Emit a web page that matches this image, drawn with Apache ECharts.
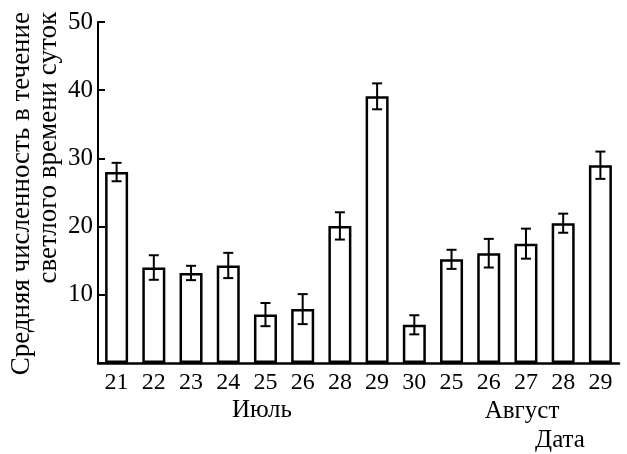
<!DOCTYPE html>
<html>
<head>
<meta charset="utf-8">
<script src="https://cdn.jsdelivr.net/npm/echarts@6/dist/echarts.min.js"></script>
<style>
  html, body { margin: 0; padding: 0; background: #fff; }
  #chart { width: 627px; height: 454px; }
</style>
</head>
<body>
<div id="chart"></div>
<script>
// Observation dates (July then August)
const days = ['21', '22', '23', '24', '25', '26', '28', '29', '30', '25', '26', '27', '28', '29'];
// Mean count during daylight hours
const means = [28, 14, 13.2, 14.3, 7.1, 7.9, 20.1, 39.1, 5.6, 15.2, 16.1, 17.5, 20.5, 29];
// Half-width of the error bars
const errors = [1.35, 1.8, 1.05, 1.85, 1.7, 2.2, 2.0, 1.9, 1.4, 1.4, 2.1, 2.2, 1.4, 2.0];
// Y axis ticks
const yTicks = [0, 10, 20, 30, 40, 50];

const FONT = '"Liberation Serif", "DejaVu Serif", serif';

const chart = echarts.init(document.getElementById('chart'));

const errData = means.map((m, i) => [i, m - errors[i], m + errors[i]]);

chart.setOption({
  animation: false,
  backgroundColor: '#fff',
  grid: { left: 98, right: 8, top: 22, bottom: 91 },
  xAxis: {
    type: 'category',
    data: days,
    axisLine: { lineStyle: { color: '#000', width: 2.5 } },
    axisTick: { show: false },
    axisLabel: { color: '#000', fontFamily: FONT, fontSize: 24, margin: 8 }
  },
  yAxis: {
    type: 'value',
    min: yTicks[0],
    max: yTicks[yTicks.length - 1],
    interval: 10,
    splitLine: { show: false },
    axisLine: { show: true, lineStyle: { color: '#000', width: 2 } },
    axisTick: { show: true, inside: true, length: 7, lineStyle: { color: '#000', width: 2 } },
    axisLabel: {
      color: '#000', fontFamily: FONT, fontSize: 25, margin: 5,
      formatter: v => (v === 0 ? '' : String(v))
    }
  },
  series: [
    {
      type: 'bar',
      data: means,
      barWidth: 23,
      itemStyle: { color: '#fff', borderColor: '#000', borderWidth: 2.5 }
    },
    {
      type: 'custom',
      data: errData,
      z: 10,
      renderItem: (params, api) => {
        const x = api.value(0);
        const lo = api.coord([x, api.value(1)]);
        const hi = api.coord([x, api.value(2)]);
        const cap = 5;
        const style = { stroke: '#000', lineWidth: 2 };
        return {
          type: 'group',
          children: [
            { type: 'line', shape: { x1: lo[0], y1: lo[1], x2: hi[0], y2: hi[1] }, style },
            { type: 'line', shape: { x1: lo[0] - cap, y1: lo[1], x2: lo[0] + cap, y2: lo[1] }, style },
            { type: 'line', shape: { x1: hi[0] - cap, y1: hi[1], x2: hi[0] + cap, y2: hi[1] }, style }
          ]
        };
      }
    }
  ],
  graphic: [
    {
      type: 'text', x: 22, y: 12, rotation: Math.PI / 2,
      style: { text: 'Средняя численность в течение', font: '27px ' + FONT, fill: '#000', align: 'right', verticalAlign: 'middle' }
    },
    {
      type: 'text', x: 49, y: 12, rotation: Math.PI / 2,
      style: { text: 'светлого времени суток', font: '27px ' + FONT, fill: '#000', align: 'right', verticalAlign: 'middle' }
    },
    {
      type: 'text', x: 262, y: 410,
      style: { text: 'Июль', font: '25px ' + FONT, fill: '#000', align: 'center', verticalAlign: 'middle' }
    },
    {
      type: 'text', x: 522, y: 411,
      style: { text: 'Август', font: '25px ' + FONT, fill: '#000', align: 'center', verticalAlign: 'middle' }
    },
    {
      type: 'text', x: 560, y: 440,
      style: { text: 'Дата', font: '25px ' + FONT, fill: '#000', align: 'center', verticalAlign: 'middle' }
    }
  ]
});
</script>
</body>
</html>
